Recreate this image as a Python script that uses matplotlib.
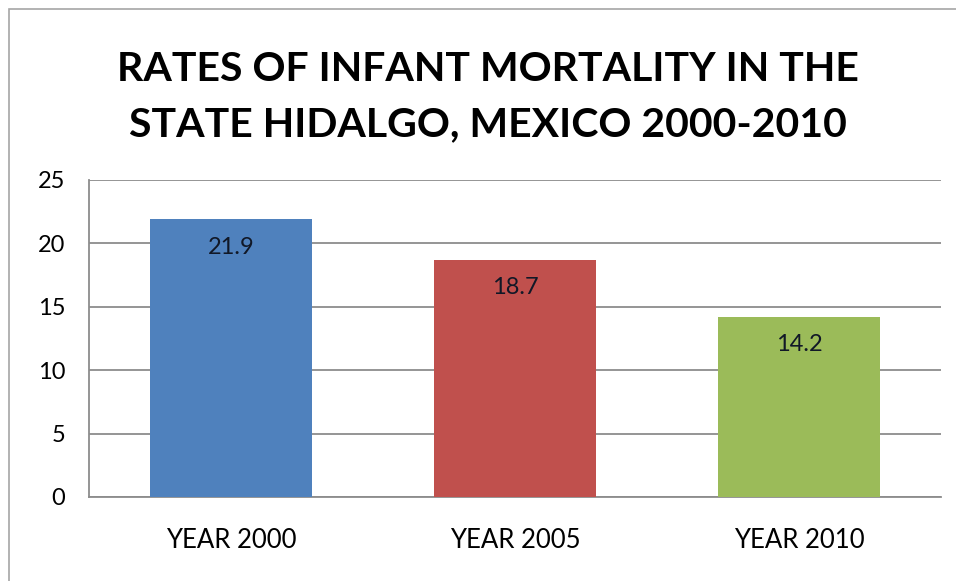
import matplotlib.pyplot as plt
from matplotlib.patches import Rectangle


categories = ["YEAR 2000", "YEAR 2005", "YEAR 2010"]
rates = [21.9, 18.7, 14.2]
bar_colors = ["#4F81BD", "#C0504D", "#9BBB59"]
y_ticks = [0, 5, 10, 15, 20, 25]
title = "RATES OF INFANT MORTALITY IN THE\nSTATE HIDALGO, MEXICO 2000-2010"

plt.rcParams['font.family'] = ['Lato', 'DejaVu Sans']

fig = plt.figure(figsize=(9.56, 5.81), dpi=100)
ax = fig.add_axes([0.0931, 0.1446, 0.891, 0.5456])

# outer chart frame, runs off the right and bottom edges
fig.patches.append(Rectangle((9 / 956, -0.1), 1.2, 1 - 9 / 581 + 0.1,
                             transform=fig.transFigure, fill=False,
                             edgecolor="#a6a6a6", linewidth=1.2))

x = range(len(categories))
bars = ax.bar(x, rates, width=0.57, color=bar_colors, zorder=3)

for xi, val in zip(x, rates):
    ax.annotate(f"{val}", xy=(xi, val), xytext=(0, -20),
                textcoords="offset points", ha="center", va="center",
                fontsize=17, color="#111827", zorder=4)

ax.set_xlim(-0.5, 2.5)
ax.set_ylim(0, 25)
ax.set_yticks(y_ticks)
ax.set_xticks(list(x))
ax.set_xticklabels(categories, fontsize=18.5)
ax.tick_params(axis="both", length=0, colors="black")
ax.tick_params(axis="y", labelsize=17, pad=17)
ax.tick_params(axis="x", pad=22)

ax.yaxis.grid(True, color="#8c8c8c", linewidth=1.3, zorder=0)
ax.set_axisbelow(True)
for side in ["top", "right"]:
    ax.spines[side].set_visible(False)
for side in ["left", "bottom"]:
    ax.spines[side].set_color("#8c8c8c")
    ax.spines[side].set_linewidth(1.3)

fig.text(0.51, 1 - 97 / 581, title, ha="center", va="center",
         fontsize=29.5, fontweight="bold", linespacing=1.6)

plt.savefig("out.png", dpi=100)
